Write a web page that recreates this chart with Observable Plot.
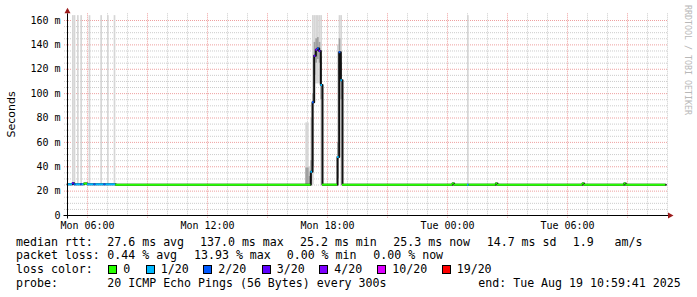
<!DOCTYPE html>
<html><head><meta charset="utf-8">
<script src="https://cdn.jsdelivr.net/npm/d3@7"></script>
<script src="https://cdn.jsdelivr.net/npm/@observablehq/plot@0.6"></script>
<style>
body{margin:0;background:#fff;width:697px;height:297px;overflow:hidden;position:relative;font-family:"DejaVu Sans Mono",monospace;}
#chart{position:absolute;left:0;top:0;}
.lg{position:absolute;font-size:11.6px;line-height:14px;white-space:pre;color:#000;}
.box{position:absolute;width:7px;height:7px;border:1px solid #000;box-sizing:content-box;}
</style></head><body>
<div id="chart"></div>
<div id="legend"></div>
<script>
// ---- data ----
// median rtt change points (day hh:mm), value in ms, loss count of 20
const medTime = ["18 05:00","18 05:15","18 05:20","18 05:25","18 05:40","18 05:45","18 05:50","18 06:00","18 06:20","18 06:25","18 06:50","18 06:55","18 07:25","18 17:10","18 17:15","18 17:20","18 17:25","18 17:30","18 17:35","18 17:40","18 17:45","18 18:30","18 18:35","18 18:40","18 18:45","19 00:15","19 00:20","19 01:00","19 01:05","19 02:25","19 02:30","19 06:45","19 06:50","19 08:50","19 08:55","19 10:55"];
const medMs = [25.6,26.4,25.6,25.6,25.6,25.6,26.2,25.6,25.6,25.6,25.6,25.6,25.3,36,93,131,136,137,135,107,25.3,48,134,111,25.3,26.3,25.3,25.3,25.3,26.3,25.3,26.3,25.3,26.3,25.3,25.3];
const medLoss = [1,3,2,1,2,1,0,1,2,1,2,1,0,1,2,3,4,2,3,1,0,1,2,1,0,0,0,1,0,0,0,0,0,0,0,0];

// smoke (ping spread) per 5-minute step
const smokeTime = ["18 05:15","18 05:20","18 05:30","18 05:40","18 06:05","18 06:40","18 07:00","18 07:20","18 16:55","18 17:00","18 17:05","18 17:10","18 17:15","18 17:20","18 17:25","18 17:30","18 17:35","18 17:40","18 18:30","18 18:35","18 18:40","19 01:00"];
const smokeLo  = [25.5,25.5,25.5,25.5,25.5,25.5,25.5,25.5,25,25,25,25,25,108,108,108,108,25,25,60,25,25];
const smokeHi  = [164,164,164,164,164,164,164,164,76,76,40,80,164,164,164,164,164,164,140,164,164,164];
const smokeQLo = [25.5,25.5,25.5,25.5,25.5,25.5,25.5,25.5,25,25,25,28,40,115,125,128,125,95,30,115,95,25];
const smokeQHi = [25.5,25.5,25.5,25.5,25.5,25.5,25.5,25.5,39,39,32,45,100,142,145,146,142,130,60,145,125,25];

const lossLevels = [0,1,2,3,4,10,19];
const lossLabels = ["0","1/20","2/20","3/20","4/20","10/20","19/20"];
const lossColors = ["#26ff00","#00b8ff","#0059ff","#5e00ff","#7e00ff","#dd00ff","#ff0000"];

const xTickLabels = ["Mon 06:00","Mon 12:00","Mon 18:00","Tue 00:00","Tue 06:00"];
const xTickTimes = ["18 06:00","18 12:00","18 18:00","19 00:00","19 06:00"];
const yTicks = [0,20,40,60,80,100,120,140,160];
const yTickLabels = ["0","20 m","40 m","60 m","80 m","100 m","120 m","140 m","160 m"];

const statRtt = ["median rtt:","27.6 ms avg","137.0 ms max","25.2 ms min","25.3 ms now","14.7 ms sd","1.9   am/s"];
const statLoss = ["packet loss:","0.44 % avg","13.93 % max","0.00 % min","0.00 % now"];
const probeText = ["probe:","20 ICMP Echo Pings (56 Bytes) every 300s","end: Tue Aug 19 10:59:41 2025"];

// ---- build ----
const parseT = s => { const [d, hm] = s.split(" "); const [h, m] = hm.split(":").map(Number); return new Date(Date.UTC(2025, 7, +d, h, m)); };
const T0 = parseT("18 05:00"), T1 = parseT("19 11:00");
const step = 5 * 60 * 1000;
const colorOf = l => lossColors[lossLevels.indexOf(l)];

const med = medTime.map((s, i) => ({t: parseT(s), v: medMs[i], loss: medLoss[i]}));
const segs = med.slice(0, -1).map((d, i) => ({...d, t2: med[i + 1].t}));
const smoke = smokeTime.map((s, i) => {const t = parseT(s); return {t, t2: new Date(+t + step), lo: smokeLo[i], hi: smokeHi[i], qlo: smokeQLo[i], qhi: smokeQHi[i]};});

const hours = d3.utcHour.range(new Date(+T0 + 3600e3), new Date(+T1 + 1));
const hMajor = hours.filter(d => d.getUTCHours() % 3 === 0);
const hMinor = hours.filter(d => d.getUTCHours() % 3 !== 0);
const yAll = d3.range(5, 161, 5);
const yMajor = yAll.filter(v => v % 20 === 0);
const yMinor = yAll.filter(v => v % 20 !== 0);

const gridC = "#cccccc", mgridC = "#eea0a0";

const plot = Plot.plot({
  width: 697, height: 232,
  marginLeft: 67, marginRight: 30, marginTop: 13.3, marginBottom: 17,
  x: {type: "utc", domain: [T0, T1], axis: null},
  y: {domain: [0, 165.5], axis: null},
  style: {fontFamily: "DejaVu Sans Mono", fontSize: "10px", background: "#fff", overflow: "visible"},
  marks: [
    Plot.ruleY(yMinor, {y: d => d, stroke: gridC, strokeDasharray: "1,1", insetLeft: -3}),
    Plot.ruleX(hMinor, {x: d => d, stroke: gridC, strokeDasharray: "1,1"}),
    Plot.ruleY(yMajor, {y: d => d, stroke: mgridC, strokeDasharray: "1,1", insetLeft: -3}),
    Plot.ruleX(hMajor, {x: d => d, stroke: mgridC, strokeDasharray: "1,1", insetBottom: -3}),
    Plot.rect(smoke, {x1: "t", x2: "t2", y1: "lo", y2: "hi", fill: "#d6d6d6"}),
    Plot.rect(smoke.filter(d => d.qhi > d.qlo), {x1: "t", x2: "t2", y1: "qlo", y2: "qhi", fill: "#a0a0a0"}),
    Plot.line(med, {x: "t", y: "v", curve: "step-after", stroke: "#111", strokeWidth: 2}),
    Plot.ruleY(segs, {y: "v", x1: "t", x2: "t2", stroke: d => colorOf(d.loss), strokeWidth: 2}),
    Plot.text(yTicks, {y: d => d, text: (d, i) => yTickLabels[i], frameAnchor: "left", dx: -7, textAnchor: "end", fill: "#000"}),
    Plot.text(xTickTimes, {x: d => parseT(d), text: (d, i) => xTickLabels[i], frameAnchor: "bottom", dy: 10, lineAnchor: "middle", fill: "#000"})
  ]
});
document.getElementById("chart").appendChild(plot);

// axes, arrows, titles
const svg = d3.select(plot);
const xs = plot.scale("x"), ys = plot.scale("y");
const x0 = Math.round(xs.apply(T0)) + 0.5, x1 = Math.round(xs.apply(T1));
const y0 = Math.round(ys.apply(0)) + 0.5, yTop = ys.apply(165.5);
svg.append("line").attr("x1", x0 - 4).attr("x2", x1 + 1).attr("y1", y0).attr("y2", y0).attr("stroke", "#000");
svg.append("line").attr("x1", x0).attr("x2", x0).attr("y1", y0 + 3).attr("y2", yTop).attr("stroke", "#000");
svg.append("path").attr("d", `M${x0},${yTop - 5.5}L${x0 - 3},${yTop}L${x0 + 3},${yTop}Z`).attr("fill", "#9b1b1b");
svg.append("path").attr("d", `M${x1 + 6.5},${y0}L${x1 + 1},${y0 - 3}L${x1 + 1},${y0 + 3}Z`).attr("fill", "#9b1b1b");
svg.append("text").attr("transform", `translate(15,${(y0 + yTop) / 2}) rotate(-90)`).attr("text-anchor", "middle")
  .attr("font-family", "DejaVu Sans").attr("font-size", 11).attr("fill", "#000").text("Seconds");
svg.append("text").attr("transform", "translate(685,5) rotate(90)").attr("text-anchor", "start")
  .attr("font-family", "DejaVu Sans Mono").attr("font-size", 8.3).attr("fill", "#b8b8b8").text("RRDTOOL / TOBI OETIKER");

// legend below
const lg = document.getElementById("legend");
function put(text, x, cy) { const s = document.createElement("div"); s.className = "lg"; s.textContent = text; s.style.left = x + "px"; s.style.top = (cy - 7) + "px"; lg.appendChild(s); }
const rttX = [16, 107.3, 200, 300, 393.3, 486.7, 572.7];
statRtt.forEach((t, i) => put(t, rttX[i], 241.7));
const lossX = [16, 107.3, 194, 286.7, 373.3];
statLoss.forEach((t, i) => put(t, lossX[i], 255.2));
put("loss color:", 16, 268.9);
const boxX = [108.3, 145.7, 203.3, 261.7, 319.3, 377.3, 441.7];
lossLabels.forEach((t, i) => {
  const b = document.createElement("div"); b.className = "box"; b.style.left = boxX[i] + "px"; b.style.top = "265px"; b.style.background = lossColors[i]; lg.appendChild(b);
  put(t, boxX[i] + 15, 268.9);
});
const probeX = [16, 107.3, 478.3];
probeText.forEach((t, i) => put(t, probeX[i], 282.7));
</script>
</body></html>
